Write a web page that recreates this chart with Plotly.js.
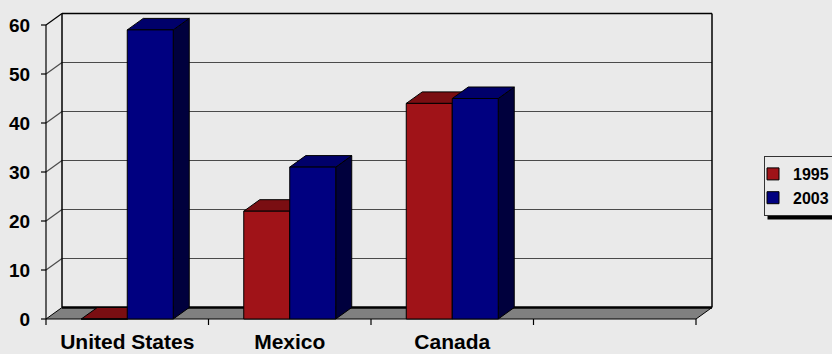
<!DOCTYPE html>
<html><head><meta charset="utf-8">
<script src="https://cdn.plot.ly/plotly-3.0.1.min.js"></script>
<style>html,body{margin:0;padding:0;background:#EAEAEA;} #chart{width:832px;height:354px;}</style>
</head><body><div id="chart"></div>
<script>
// ---- data ----
const categories = ["United States", "Mexico", "Canada"];
const seriesNames = ["1995", "2003"];
const values1995 = [0, 22, 44];
const values2003 = [59, 31, 45];
const yTickValues = [0, 10, 20, 30, 40, 50, 60];
const yTickLabels = ["0", "10", "20", "30", "40", "50", "60"];

// ---- styles ----
const frontColors = ["#A01318", "#000080"];
const topColors = ["#7A0E12", "#00006A"];
const sideColors = ["#500A0C", "#00003D"];
const FONT = "'Liberation Sans', Arial, sans-serif";
const BG = "#EAEAEA";

// ---- geometry (pixels) ----
const FRONT_X0 = 46, FRONT_Y0 = 319, CAT_PX = 162.5, UNIT_PX = 4.9;
const DEPTH_X = 16, DEPTH_Y = 11.5;
const PLOT_L = 38, PLOT_R = 714, PLOT_T = 11, PLOT_B = 327;
const BARGAP = 0.434;
const N_SLOTS = 4;           // 3 categories + one empty slot
const Y_MAX = 60;

const xRange = [-0.5 - (FRONT_X0 - PLOT_L) / CAT_PX, -0.5 + (PLOT_R - FRONT_X0) / CAT_PX];
const yRange = [-(PLOT_B - FRONT_Y0) / UNIT_PX, (FRONT_Y0 - PLOT_T) / UNIT_PX];
const dxC = DEPTH_X / CAT_PX;
const dyV = DEPTH_Y / UNIT_PX;
const xLeft = -0.5, xRight = N_SLOTS - 0.5;

const series = [values1995, values2003];

function seg(x0, y0, x1, y1, color, width) {
  return {type: 'line', xref: 'x', yref: 'y', x0: x0, y0: y0, x1: x1, y1: y1,
          line: {color: color, width: width}, layer: 'below'};
}
function poly(pts, fill, lw) {
  return {type: 'path', xref: 'x', yref: 'y',
          path: 'M' + pts.map(p => p[0] + ',' + p[1]).join('L') + 'Z',
          fillcolor: fill, line: {color: '#000', width: lw === undefined ? 1 : lw}, layer: 'below'};
}

const shapes = [];
// back-wall gridlines and left-wall diagonals
yTickValues.forEach(t => {
  if (t > 0 && t < Y_MAX) shapes.push(seg(xLeft + dxC, t + dyV, xRight + dxC, t + dyV, '#4a4a4a', 1.2));
  if (t > 0) shapes.push(seg(xLeft, t, xLeft + dxC, t + dyV, t === Y_MAX ? '#000' : '#4a4a4a', 1.2));
});
// back-wall frame
shapes.push(seg(xLeft + dxC, dyV, xLeft + dxC, Y_MAX + dyV, '#000', 1.5));
shapes.push(seg(xLeft + dxC, Y_MAX + dyV, xRight + dxC, Y_MAX + dyV, '#000', 1.5));
shapes.push(seg(xRight + dxC, dyV, xRight + dxC, Y_MAX + dyV, '#000', 1.5));
// floor
shapes.push(poly([[xLeft, 0], [xRight, 0], [xRight + dxC, dyV], [xLeft + dxC, dyV]], '#808080', 1));
shapes.push(seg(xLeft + dxC, dyV, xRight + dxC, dyV, '#000', 2.5));
// front value axis and ticks
shapes.push(seg(xLeft, 0, xLeft, Y_MAX, '#000', 1.2));
yTickValues.forEach(t => shapes.push(seg(xLeft - 5 / CAT_PX, t, xLeft, t, '#000', 1.2)));
for (let k = 0; k <= N_SLOTS; k++) {
  shapes.push(seg(k - 0.5, 0, k - 0.5, -6 / UNIT_PX, '#000', 1.2));
}
// 3D tops and sides of the bars
const w = (1 - BARGAP) / series.length;
series.forEach((vals, s) => {
  vals.forEach((v, c) => {
    const x0 = c - (series.length * w) / 2 + s * w;
    const x1 = x0 + w;
    shapes.push(poly([[x1, 0], [x1, v], [x1 + dxC, v + dyV], [x1 + dxC, dyV]], sideColors[s], 1));
    shapes.push(poly([[x0, v], [x1, v], [x1 + dxC, v + dyV], [x0 + dxC, v + dyV]], topColors[s], 1));
  });
});

const traces = series.map((vals, s) => ({
  type: 'bar', x: categories, y: vals, name: seriesNames[s],
  marker: {color: frontColors[s], line: {color: '#000', width: 1}},
  hoverinfo: 'none'
}));

const plotW = PLOT_R - PLOT_L, plotH = PLOT_B - PLOT_T;
const legendLeftPx = 764, legendTopPx = 156;
const layout = {
  width: 832, height: 354,
  margin: {l: PLOT_L, r: 832 - PLOT_R, t: PLOT_T, b: 354 - PLOT_B, pad: 0, autoexpand: false},
  paper_bgcolor: BG, plot_bgcolor: BG,
  barmode: 'group', bargap: BARGAP, bargroupgap: 0,
  font: {family: FONT, color: '#000'},
  showlegend: true,
  legend: {
    x: (legendLeftPx - PLOT_L) / plotW, y: (PLOT_B - legendTopPx) / plotH,
    xanchor: 'left', yanchor: 'top',
    bgcolor: BG, bordercolor: '#333', borderwidth: 1,
    font: {family: FONT, size: 16, weight: 'bold', color: '#000'},
    indentation: -12, traceorder: 'normal'
  },
  xaxis: {
    type: 'category', categoryorder: 'array', categoryarray: categories,
    range: xRange, showgrid: false, zeroline: false, showline: false, ticks: '',
    tickfont: {family: FONT, size: 21, weight: 'bold', color: '#000'}, fixedrange: true
  },
  yaxis: {
    range: yRange, tickmode: 'array', tickvals: yTickValues, ticktext: yTickLabels,
    showgrid: false, zeroline: false, showline: false,
    ticks: 'outside', ticklen: 3, tickcolor: 'rgba(0,0,0,0)',
    tickfont: {family: FONT, size: 19, weight: 'bold', color: '#000'}, fixedrange: true
  },
  shapes: shapes
};

const gd = document.getElementById('chart');
Plotly.newPlot(gd, traces, layout, {staticPlot: true, displayModeBar: false}).then(() => {
  // drop shadow under the legend box (paper coordinates)
  const bg = gd.querySelector('.legend .bg');
  if (!bg) return;
  const r = bg.getBoundingClientRect();
  const c = gd.getBoundingClientRect();
  const px2xp = px => (px - PLOT_L) / plotW;
  const px2yp = py => (PLOT_B - py) / plotH;
  const left = r.left - c.left, top = r.top - c.top, bottom = r.bottom - c.top;
  const shadow = {type: 'rect', xref: 'paper', yref: 'paper', layer: 'above',
    x0: px2xp(left + 3), x1: px2xp(left + 200), y0: px2yp(bottom + 4), y1: px2yp(top + 4),
    fillcolor: '#000', line: {width: 0}};
  Plotly.relayout(gd, {shapes: shapes.concat([shadow])});
});
</script>
</body></html>
